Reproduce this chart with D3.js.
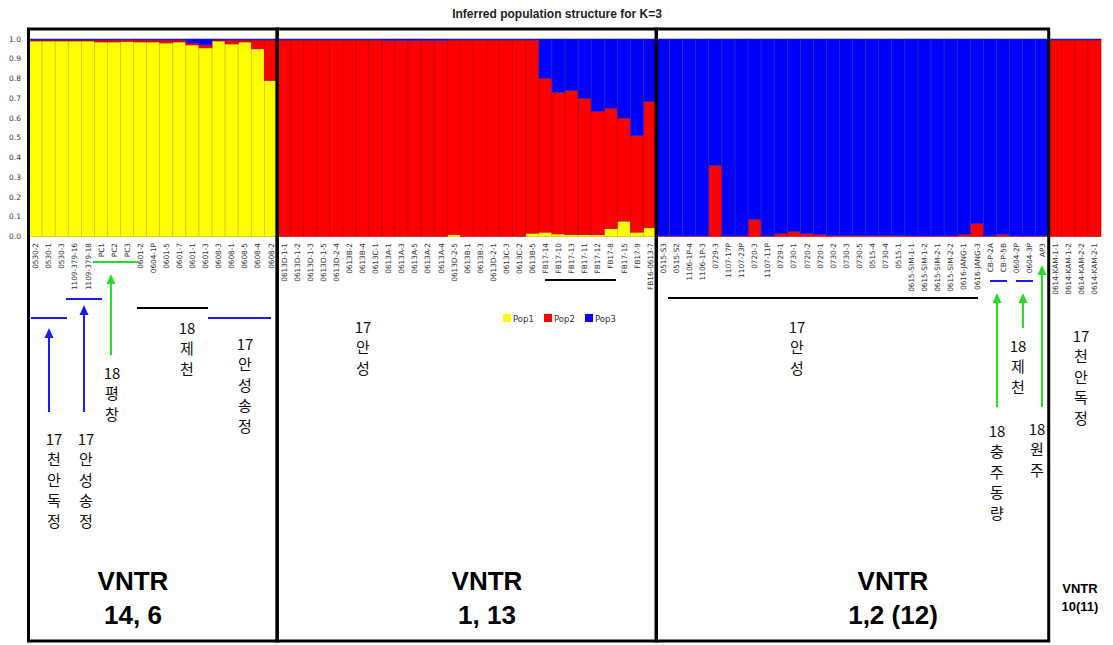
<!DOCTYPE html>
<html>
<head>
<meta charset="utf-8">
<script src="https://cdn.jsdelivr.net/npm/d3@7"></script>
<style>
  html, body { margin: 0; padding: 0; background: #fff; }
  svg { display: block; }
</style>
</head>
<body>
<svg id="chart" width="1113" height="645"></svg>
<script>
// STRUCTURE membership (K=3) per sample, grouped by VNTR cluster
const samples = [
  "0530-2","0530-1","0530-3","1109-379-16","1109-379-18","PC1","PC2","PC3","0601-2","0604-1P",
  "0601-5","0601-7","0601-1","0601-3","0608-3","0608-1","0608-5","0608-4","0608-2",
  "0613D-1-1","0613D-1-2","0613D-1-3","0613D-1-5","0613D-2-4","0613B-2","0613B-4","0613C-1","0613A-1","0613A-3",
  "0613A-5","0613A-2","0613A-4","0613D-2-5","0613B-1","0613B-3","0613D-2-1","0613C-3","0613C-2","0613B-5",
  "FB17-14","FB17-10","FB17-13","FB17-11","FB17-12","FB17-8","FB17-15","FB17-9","FB16-0613-7",
  "0515-S3","0515-S2","1106-1P-4","1106-1P-3","0729-3","1107-17P","1107-23P","0720-3","1107-11P","0729-1",
  "0730-1","0720-2","0720-1","0730-2","0730-3","0730-5","0515-4","0730-4","0515-1","0615-SIM-1-1",
  "0615-SIM-1-2","0615-SIM-2-1","0615-SIM-2-2","0616-JANG-1","0616-JANG-3","CB-P-2A","CB-P-5B","0604-2P","0604-3P","AP3",
  "0614-KAM-1-1","0614-KAM-1-2","0614-KAM-2-2","0614-KAM-2-1"
];

const pop1 = [
  0.990,0.990,0.990,0.990,0.990,0.985,0.985,0.988,0.985,0.985,
  0.980,0.985,0.970,0.955,0.990,0.975,0.985,0.950,0.790,
  0,0,0,0,0,0,0,0,0,0,
  0,0,0,0.010,0,0,0,0,0,0.017,
  0.022,0.013,0.009,0.009,0.009,0.040,0.078,0.022,0.044,
  0,0,0,0,0,0,0,0,0,0,
  0,0,0,0,0,0,0,0,0,0,
  0,0,0,0,0,0,0,0,0,0,
  0,0,0,0
];

const pop2 = [
  0.005,0.005,0.005,0.005,0.005,0.010,0.010,0.008,0.010,0.010,
  0.015,0.010,0.010,0.015,0.005,0.020,0.010,0.045,0.205,
  0.995,0.995,0.995,0.995,0.995,0.995,0.995,0.995,0.993,0.993,
  0.993,0.993,0.993,0.985,0.995,0.995,0.995,0.995,0.995,0.978,
  0.778,0.717,0.731,0.691,0.624,0.610,0.522,0.488,0.639,
  0.003,0.003,0.003,0.003,0.360,0.003,0.003,0.087,0.003,0.015,
  0.025,0.015,0.010,0.005,0.005,0.005,0.005,0.005,0.005,0.003,
  0.003,0.003,0.003,0.010,0.065,0.003,0.010,0.003,0.003,0.003,
  0.995,0.995,0.995,0.995
];

const pop3 = [
  0.005,0.005,0.005,0.005,0.005,0.005,0.005,0.004,0.005,0.005,
  0.005,0.005,0.020,0.030,0.005,0.005,0.005,0.005,0.005,
  0.005,0.005,0.005,0.005,0.005,0.005,0.005,0.005,0.007,0.007,
  0.007,0.007,0.007,0.005,0.005,0.005,0.005,0.005,0.005,0.005,
  0.200,0.270,0.260,0.300,0.367,0.350,0.400,0.490,0.317,
  0.997,0.997,0.997,0.997,0.640,0.997,0.997,0.913,0.997,0.985,
  0.975,0.985,0.990,0.995,0.995,0.995,0.995,0.995,0.995,0.997,
  0.997,0.997,0.997,0.990,0.935,0.997,0.990,0.997,0.997,0.997,
  0.005,0.005,0.005,0.005
];

const popNames = ["Pop1", "Pop2", "Pop3"];
const popColors = ["#ffff00", "#ff0000", "#0000ff"];
const popStrokes = ["#c8b400", "#b00000", "#2a2ab0"];
const yTicks = [0, 0.1, 0.2, 0.3, 0.4, 0.5, 0.6, 0.7, 0.8, 0.9, 1.0];

// number of samples in each VNTR group, left to right
const groupSizes = [19, 29, 30, 4];
const groupTitles = [["VNTR", "14, 6"], ["VNTR", "1, 13"], ["VNTR", "1,2 (12)"], ["VNTR", "10(11)"]];

const svg = d3.select("#chart");

const x = d3.scaleBand().domain(samples).range([29, 1101]).padding(0);
const y = d3.scaleLinear().domain([0, 1]).range([236.5, 39]);

const rows = samples.map((s, i) => ({ sample: s, Pop1: pop1[i], Pop2: pop2[i], Pop3: pop3[i] }));
const stacked = d3.stack().keys(popNames)(rows);

// title
svg.append("text")
  .attr("x", 557).attr("y", 18)
  .attr("text-anchor", "middle")
  .attr("font-family", "Liberation Sans, Arial, sans-serif")
  .attr("font-weight", "bold")
  .attr("font-size", 12)
  .attr("fill", "#222")
  .text("Inferred population structure for K=3");

// stacked bars
svg.append("g").selectAll("g")
  .data(stacked)
  .join("g")
  .attr("fill", (d, i) => popColors[i])
  .attr("stroke", (d, i) => popStrokes[i])
  .attr("stroke-width", 0.6)
  .selectAll("rect")
  .data(d => d)
  .join("rect")
  .attr("x", d => x(d.data.sample))
  .attr("width", x.bandwidth())
  .attr("y", d => y(d[1]))
  .attr("height", d => Math.max(0, y(d[0]) - y(d[1])));

// y axis labels
svg.append("g").selectAll("text")
  .data(yTicks)
  .join("text")
  .attr("x", 21).attr("y", d => y(d))
  .attr("dy", "0.35em")
  .attr("text-anchor", "end")
  .attr("font-family", "DejaVu Sans, sans-serif")
  .attr("font-size", 7.5)
  .attr("fill", "#333")
  .text(d => d.toFixed(1));

// x axis sample names, rotated
svg.append("g").selectAll("text")
  .data(samples)
  .join("text")
  .attr("transform", d => `translate(${x(d) + x.bandwidth() / 2 + 2.7},243) rotate(-90)`)
  .attr("text-anchor", "end")
  .attr("font-family", "DejaVu Sans, sans-serif")
  .attr("font-size", 7.3)
  .attr("fill", "#333")
  .text(d => d);

// legend
const legend = svg.append("g").attr("transform", "translate(503,314)");
popNames.forEach((name, i) => {
  const g = legend.append("g").attr("transform", `translate(${i * 41},0)`);
  g.append("rect").attr("width", 8).attr("height", 8).attr("fill", popColors[i]);
  g.append("text").attr("x", 10).attr("y", 7.5)
    .attr("font-family", "DejaVu Sans, sans-serif")
    .attr("font-size", 8.5).attr("fill", "#333").text(name);
});

// group frames and VNTR titles
const titleX = [133, 487, 893, 1080];
let start = 0;
const frames = svg.append("g");
groupSizes.forEach((n, gi) => {
  const x0 = x(samples[start]);
  const x1 = x(samples[start + n - 1]) + x.bandwidth();
  if (gi < 3) {
    frames.append("rect")
      .attr("x", x0 - 0.5).attr("y", 29)
      .attr("width", x1 - x0 + 0.5).attr("height", 612)
      .attr("fill", "none").attr("stroke", "#000").attr("stroke-width", 3);
  }
  const big = gi < 3;
  const t = svg.append("text")
    .attr("text-anchor", "middle")
    .attr("font-family", "Liberation Sans, Arial, sans-serif")
    .attr("font-weight", "bold")
    .attr("font-size", big ? 26 : 13)
    .attr("fill", "#000");
  groupTitles[gi].forEach((line, li) => {
    t.append("tspan").attr("x", titleX[gi])
      .attr("y", big ? 590 + li * 34 : 593 + li * 18)
      .text(line);
  });
  start += n;
});

// annotation markers
const marks = svg.append("g").attr("stroke-width", 2).attr("fill", "none");
const hLines = [
  [31, 67, 318, "#1a1aff"], [66, 102, 299, "#1a1aff"], [208, 271, 318, "#1a1aff"],
  [990, 1007, 281, "#1a1aff"], [1016, 1033, 281, "#1a1aff"],
  [93, 138, 262, "#22e022"],
  [137, 208, 308, "#000"], [545, 616, 280, "#000"], [668, 978, 298, "#000"]
];
hLines.forEach(([a, b, yy, c]) => {
  marks.append("line").attr("x1", a).attr("x2", b).attr("y1", yy).attr("y2", yy).attr("stroke", c);
});

const arrows = [
  [49, 412, 328, "#1a1aff"], [84, 412, 305, "#1a1aff"], [111, 355, 274, "#22e022"],
  [997, 407, 293, "#22e022"], [1023, 328, 293, "#22e022"], [1042, 407, 265, "#22e022"]
];
arrows.forEach(([ax, yb, yt, c]) => {
  marks.append("line").attr("x1", ax).attr("x2", ax).attr("y1", yb).attr("y2", yt + 8).attr("stroke", c);
  svg.append("path")
    .attr("d", `M${ax},${yt} L${ax - 4.5},${yt + 10} L${ax + 4.5},${yt + 10} Z`)
    .attr("fill", c);
});

// vertical Korean place labels
const notes = [
  [["17", "천", "안", "독", "정"], 54, 438],
  [["17", "안", "성", "송", "정"], 86, 438],
  [["18", "평", "창"], 112, 372],
  [["18", "제", "천"], 187, 327],
  [["17", "안", "성", "송", "정"], 245, 343],
  [["17", "안", "성"], 363, 326],
  [["17", "안", "성"], 797, 326],
  [["18", "충", "주", "동", "량"], 997, 430],
  [["18", "제", "천"], 1018, 345],
  [["18", "원", "주"], 1037, 428],
  [["17", "천", "안", "독", "정"], 1081, 335]
];
notes.forEach(([lines, nx, ny]) => {
  const t = svg.append("text")
    .attr("text-anchor", "middle")
    .attr("font-family", "Noto Sans CJK KR, sans-serif")
    .attr("font-size", 15)
    .attr("fill", "#111");
  lines.forEach((s, i) => {
    t.append("tspan").attr("x", nx).attr("y", ny + i * 20.5)
      .attr("dominant-baseline", "central").text(s);
  });
});
</script>
</body>
</html>
